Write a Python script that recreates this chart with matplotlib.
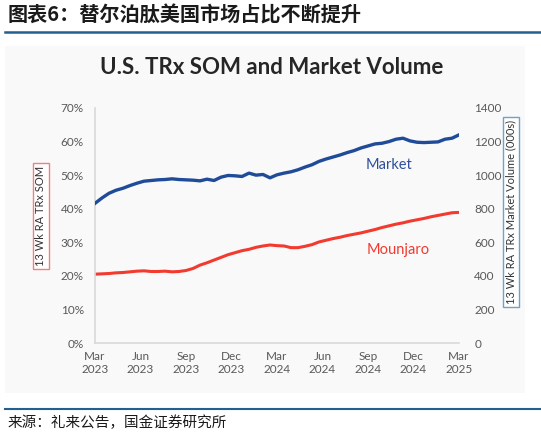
import matplotlib.pyplot as plt
import numpy as np

plt.rcParams['font.family'] = ['Lato', 'Noto Sans CJK SC', 'DejaVu Sans']

# biweekly readings, Mar 2023 -> Mar 2025
weeks = list(range(0, 105, 2))
market_volume = [832, 864, 892, 910, 922, 938, 952, 964, 968, 972, 974, 978, 974,
                 972, 970, 966, 976, 968, 988, 998, 996, 992, 1012, 1000, 1004, 984,
                 1002, 1012, 1020, 1032, 1048, 1062, 1082, 1096, 1108, 1120, 1134, 1146,
                 1162, 1174, 1186, 1190, 1200, 1214, 1220, 1204, 1196, 1194, 1196, 1198,
                 1214, 1220, 1240]
mounjaro_som = [20.5, 20.6, 20.7, 20.9, 21.0, 21.2, 21.4, 21.5, 21.3, 21.3, 21.4, 21.2,
                21.3, 21.6, 22.2, 23.2, 23.9, 24.7, 25.5, 26.3, 26.9, 27.5, 27.9, 28.5,
                28.9, 29.2, 29.0, 28.9, 28.4, 28.4, 28.8, 29.3, 30.1, 30.6, 31.1, 31.5,
                32.0, 32.4, 32.8, 33.3, 33.8, 34.4, 34.9, 35.4, 35.8, 36.3, 36.7, 37.1,
                37.6, 38.0, 38.4, 38.8, 38.9]
tick_weeks = [0, 13, 26, 39, 52, 65, 78, 91, 104]
tick_labels = ["Mar\n2023", "Jun\n2023", "Sep\n2023", "Dec\n2023", "Mar\n2024",
               "Jun\n2024", "Sep\n2024", "Dec\n2024", "Mar\n2025"]

blue = "#1f4b99"
red = "#f23a2f"
grey = "#595959"

fig = plt.figure(figsize=(5.41, 4.36), dpi=100)
fig.patches.append(plt.Rectangle((5 / 541, 1 - 393 / 436), 520 / 541, 347 / 436,
                                 transform=fig.transFigure, facecolor="#f9f9f9",
                                 edgecolor="none", zorder=-5))

ax = fig.add_axes([95 / 541, 1 - 343 / 436, 364 / 541, 235 / 436])
ax.patch.set_alpha(0)
ax.plot(weeks, mounjaro_som, color=red, lw=2.2)
ax.set_xlim(0, 104)
ax.set_ylim(0, 70)
ax.set_yticks(range(0, 71, 10))
ax.set_yticklabels([f"{v}%" for v in range(0, 71, 10)])
ax.set_xticks(tick_weeks)
ax.set_xticklabels(tick_labels)
ax.tick_params(length=0, labelsize=8.5, labelcolor=grey, pad=8)
ax.tick_params(axis="x", pad=6)
for s in ["top", "right"]:
    ax.spines[s].set_visible(False)
for s in ["left", "bottom"]:
    ax.spines[s].set_color("#d9d9d9")
    ax.spines[s].set_linewidth(1.2)

ax2 = ax.twinx()
ax2.plot(weeks, market_volume, color=blue, lw=2.4)
ax2.set_ylim(0, 1400)
ax2.set_yticks(range(0, 1401, 200))
ax2.tick_params(length=0, labelsize=8.5, labelcolor=grey, pad=11)
for s in ax2.spines.values():
    s.set_visible(False)

ax2.text(84, 1060, "Market", color="#2e4f9a", fontsize=10.5, ha="center", va="center")
ax2.text(86.5, 555, "Mounjaro", color=red, fontsize=10.5, ha="center", va="center")

fig.text(41 / 541, 1 - 216 / 436, "13 Wk RA TRx SOM", rotation=90, ha="center",
         va="center", fontsize=8, color="#333333",
         bbox=dict(boxstyle="square,pad=0.25", facecolor="white", edgecolor="#f08080", lw=1))
fig.text(511 / 541, 1 - 212 / 436, "13 Wk RA TRx Market Volume (000s)", rotation=90,
         ha="center", va="center", fontsize=8, color="#333333",
         bbox=dict(boxstyle="square,pad=0.25", facecolor="white", edgecolor="#6fa0cf", lw=1))

fig.text(272 / 541, 1 - 68 / 436, "U.S. TRx SOM and Market Volume", ha="center",
         va="center", fontsize=16, fontweight="bold", color="#262626")

fig.text(8 / 541, 1 - 15 / 436, "图表6：替尔泊肽美国市场占比不断提升", ha="left", va="center",
         fontsize=14.5, fontweight="bold", style="italic", color="#1a1a1a",
         family=["Noto Sans CJK SC", "DejaVu Sans"])
fig.add_artist(plt.Line2D([5 / 541, 1], [1 - 32 / 436] * 2, color="#23608f", lw=1.8,
                          transform=fig.transFigure))
fig.add_artist(plt.Line2D([5 / 541, 1], [1 - 409 / 436] * 2, color="#23608f", lw=1.5,
                          transform=fig.transFigure))
fig.text(8 / 541, 1 - 423 / 436, "来源：礼来公告，国金证券研究所", ha="left", va="center",
         fontsize=10.5, color="#1a1a1a", family=["Noto Sans CJK SC", "DejaVu Sans"])

fig.savefig("out.png", dpi=100)
